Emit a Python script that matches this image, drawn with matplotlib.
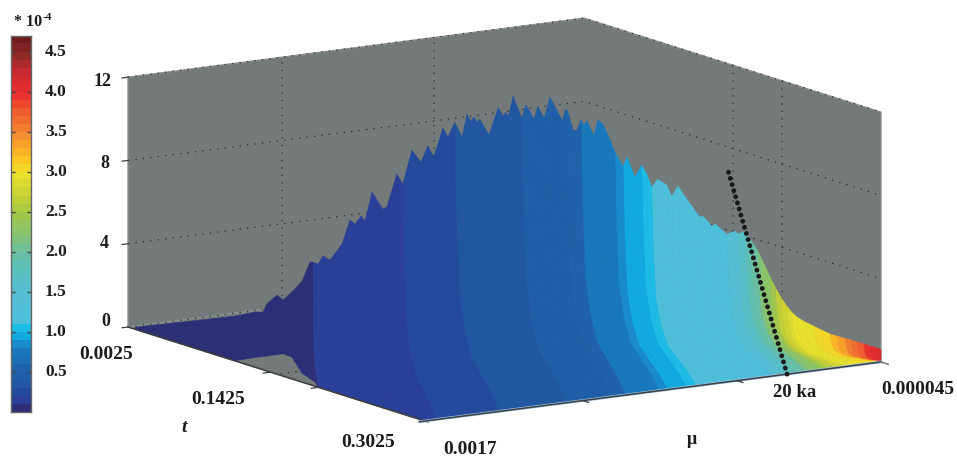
import matplotlib
matplotlib.use('Agg')
import matplotlib.pyplot as plt
import numpy as np
from matplotlib.colors import LinearSegmentedColormap, Normalize
from mpl_toolkits.mplot3d import proj3d

W, H = 957, 460
MU_HI, MU_LO = 0.0017, 0.000045
T_LO, T_HI = 0.0025, 0.3025

# colour scale (units of 1e-4)
cbar_stops = [0.0, 0.1, 0.2, 0.3, 0.4, 0.5, 0.6, 0.7, 0.8, 0.9, 1.0, 1.1, 1.5, 1.8, 2.0,
              2.25, 2.5, 2.75, 3.0, 3.15, 3.5, 3.75, 4.0, 4.3, 4.5, 4.7]
cbar_colors = ['#2c2e76', '#2a3f97', '#234a9b', '#21559f', '#205fa7', '#2160a9', '#1b6fb4',
               '#1875b9', '#1a86c6', '#12a5dc', '#0fbbe9', '#4ebfdb', '#54bed2', '#5dbfb8',
               '#6cbf9f', '#8cc46a', '#a5c844', '#cdd333', '#ece32c', '#fbc823', '#f48a30',
               '#f0622f', '#ec2f2e', '#c7282f', '#8e2a26', '#701d1d']
cbar_ticks = [0.5, 1.0, 1.5, 2.0, 2.5, 3.0, 3.5, 4.0, 4.5]

z_ticks = [0, 4, 8, 12]
mu_grid = [0.338, 0.671]      # fraction along the log mu axis
t_grid = [0.2026, 0.1531]
t_stubs = [0.195, 0.1465]

# left flank of the surface, on the mu = 0.0017 side
left_depth = [.976, .757, .64, .572, .545, .532, .498, .478, .448, .414, .387,
              .377, .36, .3434, .32, .2795, .2525, .2357, .2155, .202, .178]
left_z = [.1, 1.43, 2.15, 2.65, 2.77, 3.22, 3.80, 3.65, 4.17, 4.85, 5.88,
          5.93, 5.91, 6.37, 6.28, 7.23, 8.51, 8.39, 8.87, 8.69, 10.19]
left_foot_depth = [.976, .757, .64, .572, .545, .532, .498, .478, .448, .414, .37,
                   .36, .333, .308, .273, .209, .168, .141, .111, .09, .054]
left_foot_z = [0, 0, 0, .47, .64, .72, .94, 1.07, 1.05, .43, .2,
               0, 0, 0, 0, 0, 0, 0, 0, 0, 0]
left_c = [.05] * 11 + [.15] * 10

# jagged ridge, read along mu (fraction of the log axis)
ridge_mu = [.005, .014, .036, .049, .069, .089, .104, .117, .137, .148, .163, .179, .19, .198,
            .205, .212, .218, .238, .258, .269, .275, .28, .291, .31, .319, .337, .345, .359,
            .372, .398, .407, .413, .422, .431, .44, .446, .453, .468, .477, .488, .503, .514,
            .532, .541, .558, .573, .584, .595, .608, .628, .639, .652, .672, .70, .707, .727,
            .734, .76, .777, .784]
ridge_z = [9.48, 9.56, 11.08, 10.56, 12.13, 11.5, 12.23, 11.66, 13.0, 12.54, 13.2, 12.45, 13.52, 13.16,
           13.33, 13.08, 13.2, 12.38, 13.62, 13.2, 13.38, 13.12, 14.1, 12.99, 13.59, 12.87, 13.46, 12.85,
           13.82, 12.64, 13.15, 12.89, 12.1, 12.07, 12.53, 12.27, 12.44, 11.68, 12.42, 12.2, 11.43, 10.78,
           10.05, 10.46, 9.45, 9.98, 9.52, 8.87, 9.21, 8.87, 8.31, 8.76, 8.07, 7.13, 7.16, 6.62,
           6.70, 6.15, 6.24, 6.08]
ridge_c = [.15] * 3 + [.27] * 7 + [.37] * 13 + [.45] * 7 + [.55] * 4 + [.7] * 7 + [.85] + [.93] * 3 \
    + [1.0] * 2 + [1.2] * 10 + [1.4] * 2 + [1.6]
ridge_foot_mu = [0, .002, .013, .024, .05, .08]

# low-mu tail where the ridge runs down to the front edge
tail_mu = [.80, .808, .817, .823, .829, .836, .844, .852, .861, .868, .876, .888, .90, .912,
           .925, .935, .947, .956, .965, .975, .984, .991, .998, 1.0]
tail_foot_mu = [.80, .815, .835, .845, .855, .87, .885, .90, .912, .925, .938, .955, .968, .98,
                .991, .995, 1, 1, 1, 1, 1, 1, 1, 1]
tail_depth = [.15, .144, .137, .133, .128, .123, .117, .111, .104, .099, .093, .084, .075, .066,
              .056, .049, .04, .033, .026, .019, .012, .007, .0015, 0]
tail_z = [6.18, 5.75, 5.32, 4.94, 4.51, 4.04, 3.51, 3.04, 2.61, 2.33, 2.09, 1.86, 1.68, 1.49,
          1.30, 1.21, 1.10, 1.03, .94, .85, .76, .71, .62, .6]
tail_c = [1.8, 1.95, 2.1, 2.2, 2.3, 2.45, 2.6, 2.7, 2.8, 2.9, 3.0, 3.0, 3.05, 3.1,
          3.2, 3.35, 3.55, 3.65, 3.75, 3.9, 4.0, 4.05, 4.1, 4.1]

# shape of the rise from foot to ridge
rise_h = [0, .21, .64, .80, .91, .97, 1]
rise_z = [0, .065, .167, .27, .41, .7, 1]

line_mu = 0.794
line_depth = [0, .202]
line_z = [0, 9.03]

n_left, n_ridge, n_tail = len(left_z), len(ridge_z), len(tail_z)
top_u = np.r_[np.zeros(n_left), ridge_mu, tail_mu]
top_s = np.r_[left_depth, np.full(n_ridge, .15), tail_depth]
top_z = np.r_[left_z, ridge_z, tail_z]
foot_u = top_u.copy()
foot_u[n_left:n_left + len(ridge_foot_mu)] = ridge_foot_mu
foot_u[-n_tail:] = tail_foot_mu
foot_s = np.r_[left_foot_depth, np.zeros(n_ridge + n_tail)]
foot_z = np.r_[left_foot_z, np.zeros(n_ridge + n_tail)]
c_vals = np.r_[left_c, ridge_c, tail_c]


def mu_x(u):
    # log10(mu) for a fraction along the axis
    return np.log10(MU_HI) + np.asarray(u) * (np.log10(MU_LO) - np.log10(MU_HI))


def depth_t(s):
    return T_HI - (T_HI - T_LO) * np.asarray(s)


cmap = LinearSegmentedColormap.from_list(
    'cb', [(v / cbar_stops[-1], col) for v, col in zip(cbar_stops, cbar_colors)], N=47)
norm = Normalize(0, 4.7)

fig = plt.figure(figsize=(W / 100, H / 100), dpi=100, facecolor='white')
serif = dict(family='Liberation Serif', fontweight='bold', color='#1c1c1c')


def label(x, y, s, size=14, **kw):
    fig.text(x / W, 1 - y / H, s, fontsize=size, ha=kw.pop('ha', 'center'),
             va=kw.pop('va', 'center'), **serif, **kw)


ax = fig.add_axes([0.2, 0, 460 / W, 1], projection='3d', proj_type='ortho',
                  computed_zorder=False)
ax.set_facecolor('none')
ax.view_init(elev=11.68, azim=57.4)
ax.set_box_aspect((541, 551, 255))
ax.set_xlim(np.log10(MU_LO), np.log10(MU_HI), view_margin=0)
ax.set_ylim(T_LO, T_HI, view_margin=0)
ax.set_zlim(0, 12, view_margin=0)
ax.set_xticks(mu_x(mu_grid))
ax.set_yticks(t_grid)
ax.set_zticks(z_ticks)
ax.set_xticklabels([])
ax.set_yticklabels([])
ax.set_zticklabels([])
ax.tick_params(which='both', color=(0, 0, 0, 0))
for axis in (ax.xaxis, ax.yaxis, ax.zaxis):
    axis.line.set_color((0, 0, 0, 0))
    axis.set_pane_color('#74797a')
    axis.pane.set_edgecolor('#8b8f90')
    axis._axinfo['grid'].update(color='#2a2a2a', linestyle=(0, (1, 5)), linewidth=0.9)

# surface strips
h = np.array(rise_h)[:, None]
r = np.array(rise_z)[:, None]
U = foot_u + h * (top_u - foot_u)
S = foot_s + h * (top_s - foot_s)
Z = foot_z + r * (top_z - foot_z)
face = cmap(norm(np.tile(c_vals, (len(rise_h), 1))))
ax.plot_surface(mu_x(U), depth_t(S), Z, facecolors=face, rstride=1, cstride=1,
                shade=False, linewidth=0.35, antialiased=True, zorder=2)

# axis edges and tick stubs
edge = '#3d3f40'
ax.plot(mu_x([0, 0]), depth_t([-0.01, 1]), [0, 0], color=edge, lw=1.1, zorder=3)
ax.plot(mu_x([-0.012, 1]), depth_t([0, 0]), [0, 0], color='#9ec6ea', lw=2.0, zorder=3)
ax.plot(mu_x([-0.012, 1]), depth_t([0, 0]), [0, 0], color=edge, lw=1.1, zorder=3)
ax.plot(mu_x([1, 1]), depth_t([0, -0.03]), [0, 0], color='#777777', lw=1.1, zorder=3)
for z in z_ticks:
    ax.plot(mu_x([-0.013, 0]), depth_t([1, 1]), [z, z], color=edge, lw=0.9, zorder=3)
for t in t_stubs:
    ax.plot(mu_x([-0.016, 0]), [t, t], [0, 0], color=edge, lw=0.9, zorder=3)
for u in [0.346, 0.684]:
    ax.plot(mu_x([u, u]), depth_t([0, -0.02]), [0, 0], color=edge, lw=0.9, zorder=3)

# 20 ka marker
ax.plot(mu_x([line_mu, line_mu]), depth_t(line_depth), line_z, color='#1a1a1a', lw=3.5,
        linestyle=(0, (0.01, 1.3)), dash_capstyle='round', zorder=4)

# fit the cube onto the picture using two of its corners
target_a = np.array([128.0, H - 328.0])
target_b = np.array([881.0, H - 363.0])


def corner_px(u, s):
    x, y, _ = proj3d.proj_transform(mu_x(u), depth_t(s), 0, ax.get_proj())
    return ax.transData.transform((x, y))


ax.apply_aspect()
a0, b0 = corner_px(0, 1), corner_px(1, 0)
k = np.linalg.norm(target_b - target_a) / np.linalg.norm(b0 - a0)
size = 460 * k
ax.set_position([0, 0, size / W, size / H])
ax.apply_aspect()
a1 = corner_px(0, 1)
ax.set_position([(target_a[0] - a1[0]) / W, (target_a[1] - a1[1]) / H, size / W, size / H])
ax.apply_aspect()

# colour bar
cax = fig.add_axes([11 / W, 1 - 412.5 / H, 20 / W, 376 / H])
edges = np.linspace(0, 4.7, 48)
cax.pcolormesh([0, 1], edges, ((edges[:-1] + edges[1:]) / 2)[:, None], cmap=cmap, norm=norm)
cax.set_xticks([])
cax.set_ylim(0, 4.7)
cax.set_yticks(cbar_ticks)
cax.set_yticklabels([])
cax.tick_params(axis='y', direction='in', left=True, right=True, length=3, width=1, color='#444444')
for sp in cax.spines.values():
    sp.set_color('#666666')
    sp.set_linewidth(1.0)
for v in cbar_ticks:
    label(45, 412.5 - v * 80 - 0.5, f'{v:.1f}', size=12.5, ha='left')

label(14, 22, '* 10', size=11.5, ha='left')
label(42.5, 17, '-4', size=8, ha='left')

# axis labels
label(112, 81, '12', size=13, ha='right')
label(109.5, 163, '8', size=13, ha='right')
label(108.5, 244, '4', size=13, ha='right')
label(110.5, 322, '0', size=13, ha='right')
label(106, 355, '0.0025')
label(218, 400, '0.1425')
label(368, 443, '0.3025')
label(470, 450, '0.0017')
label(918, 390, '0.000045')
label(795, 393, '20 ka', size=13.5)
label(184, 428, 't', style='italic')
label(692, 440, 'μ', size=13)

plt.savefig('out.png', dpi=100, facecolor='white')
plt.close()
